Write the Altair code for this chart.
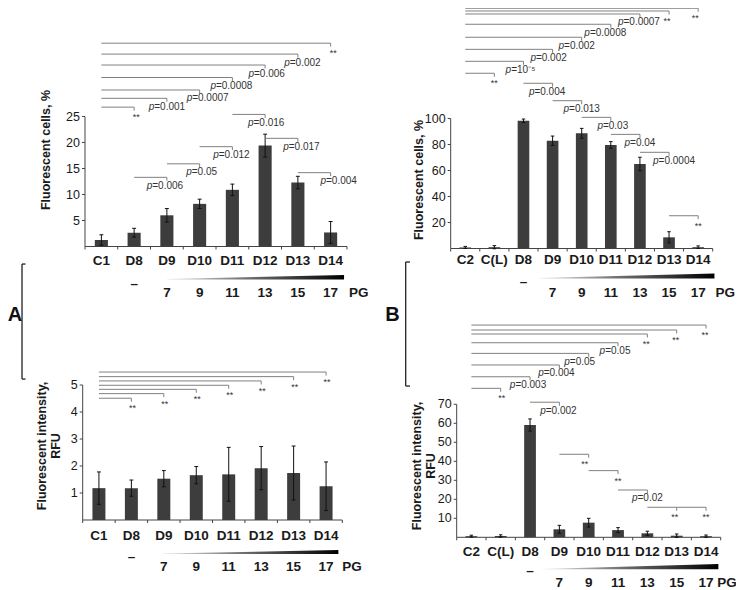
import altair as alt
import pandas as pd

# ---------------- data ----------------
cats_A = ["C1", "D8", "D9", "D10", "D11", "D12", "D13", "D14"]
cells_A = [1.25, 2.65, 6.0, 8.2, 10.9, 19.4, 12.3, 2.7]
cells_A_err = [1.0, 0.85, 1.3, 0.9, 1.1, 2.2, 1.2, 2.1]
rfu_A = [1.18, 1.18, 1.53, 1.66, 1.69, 1.92, 1.74, 1.25]
rfu_A_err = [0.6, 0.3, 0.3, 0.32, 1.0, 0.8, 1.0, 0.9]

cats_B = ["C2", "C(L)", "D8", "D9", "D10", "D11", "D12", "D13", "D14"]
cells_B = [0.8, 1.0, 98.3, 82.9, 88.6, 79.6, 65.0, 8.6, 1.0]
cells_B_err = [0.8, 1.2, 1.3, 3.6, 3.8, 2.6, 5.2, 4.3, 1.0]
rfu_B = [0.6, 0.7, 59.1, 4.2, 7.7, 3.8, 2.1, 0.85, 0.6]
rfu_B_err = [0.5, 0.6, 3.2, 2.1, 2.3, 1.3, 1.1, 0.9, 0.6]

ticks_cells_A = [5, 10, 15, 20, 25]
ticks_rfu_A = [1, 2, 3, 4, 5]
ticks_cells_B = [20, 40, 60, 80, 100]
ticks_rfu_B = [10, 20, 30, 40, 50, 60, 70]

title_cells = ["Fluorescent cells, %"]
title_rfu = ["Fluorescent intensity,", "RFU"]

pg_cats = ["D9", "D10", "D11", "D12", "D13", "D14"]
pg_values = ["7", "9", "11", "13", "15", "17"]
no_pg_cat = "D8"

# significance brackets: from, to, height (axis units), label
sig_cells_A_from = ["C1"] * 7 + ["D8", "D9", "D10", "D11", "D12", "D13"]
sig_cells_A_to = ["D8", "D9", "D10", "D11", "D12", "D13", "D14",
                  "D9", "D10", "D11", "D12", "D13", "D14"]
sig_cells_A_lvl = [26.8, 28.5, 30.1, 32.5, 34.9, 37.0, 39.1,
                   13.3, 15.9, 19.2, 25.4, 20.8, 14.2]
sig_cells_A_lab = ["**", "p=0.001", "p=0.0007", "p=0.0008", "p=0.006", "p=0.002", "**",
                   "p=0.006", "p=0.05", "p=0.012", "p=0.016", "p=0.017", "p=0.004"]

sig_rfu_A_from = ["C1"] * 7
sig_rfu_A_to = ["D8", "D9", "D10", "D11", "D12", "D13", "D14"]
sig_rfu_A_lvl = [4.51, 4.68, 4.84, 4.99, 5.15, 5.31, 5.48]
sig_rfu_A_lab = ["**"] * 7

sig_cells_B_from = ["C2"] * 8 + ["D8", "D9", "D10", "D11", "D12", "D13"]
sig_cells_B_to = ["C(L)", "D8", "D9", "D10", "D11", "D12", "D13", "D14",
                  "D9", "D10", "D11", "D12", "D13", "D14"]
sig_cells_B_lvl = [134.8, 144.0, 153.2, 162.5, 172.5, 180.4, 182.7, 184.8,
                   127.1, 113.7, 100.9, 87.8, 74.0, 25.2]
sig_cells_B_lab = ["**", "p=10⁻⁵", "p=0.002", "p=0.002", "p=0.0008", "p=0.0007", "**", "**",
                   "p=0.004", "p=0.013", "p=0.03", "p=0.04", "p=0.0004", "**"]

sig_rfu_B_from = ["C2"] * 8 + ["D8", "D9", "D10", "D11", "D12", "D13"]
sig_rfu_B_to = ["C(L)", "D8", "D9", "D10", "D11", "D12", "D13", "D14",
                "D9", "D10", "D11", "D12", "D13", "D14"]
sig_rfu_B_lvl = [78.4, 84.5, 90.7, 96.8, 102.4, 107.0, 109.1, 111.7,
                 71.1, 43.7, 35.1, 24.9, 15.8, 15.8]
sig_rfu_B_lab = ["**", "p=0.003", "p=0.004", "p=0.05", "p=0.05", "**", "**", "**",
                 "p=0.002", "**", "**", "p=0.02", "**", "**"]

# ---------------- layout / style ----------------
W, H = 728, 582
FONT = "Liberation Sans"
BAR = "#3d3d3d"
LINE = "#808080"
INK = "#1a1a1a"
PTXT = "#333333"
AX = "#444444"
TICK_PX = 3.5

# horizontal label nudges (px) for the bracket labels, same order as the brackets
shift_cells_A = [2, 0, 8, -1, 1.5, 4.5, 2.5, -2, 2, -1, 1, 3.5, 8]
shift_rfu_A = [1] * 7
shift_cells_B = [0, -3, -4, -5, -5.5, -1, -2, -3, -5.5, 0, 2, 0, 5, 0]
shift_rfu_B = [1, -2, -3, -9, -3, -1, -1, -1, -1, -4, 0, 0, -2, 0]

GRAD = alt.LinearGradient(
    gradient="linear",
    stops=[alt.GradientStop(color="#e8e8e8", offset=0),
           alt.GradientStop(color="#707070", offset=0.45),
           alt.GradientStop(color="#000000", offset=1)],
    x1=0, x2=1, y1=0, y2=0)

cfg_TL = dict(x0=77, x1=339, y0=238.5, ppu=5.2, ymax=25,
              title_x=-39, title_y=142,
              cat_dy=14.5, dash_dy=37, num_dy=46.5, pg_dx=28, wedge=(2.5, 7.91, 33, 4.5))
cfg_BL = dict(x0=74.7, x1=334.3, y0=512, ppu=27, ymax=5,
              title_x=-41, title_y=438,
              cat_dy=15.5, dash_dy=37, num_dy=46.7, pg_dx=26, wedge=(2.45, 7.88, 34, 4))
cfg_TR = dict(x0=442.7, x1=704.7, y0=240.5, ppu=1.3, ymax=100,
              title_x=-31.7, title_y=172,
              cat_dy=11.5, dash_dy=33, num_dy=44, pg_dx=27, wedge=(3.01, 9.06, 30, 5))
cfg_BR = dict(x0=448.7, x1=712.7, y0=529.3, ppu=1.9, ymax=70,
              title_x=-39.5, title_y=458,
              cat_dy=14.5, dash_dy=34, num_dy=45.4, pg_dx=21, wedge=(2.9, 8.92, 32, 5.3))

deco_A = dict(letter="A", lx=-1.87, tx=-1.763, ytop=9.48, ybot=5.22, txt_x=-2.09, txt_y=7.59)
deco_B = dict(letter="B", lx=-1.739, tx=-1.592, ytop=144.9, ybot=79.6, txt_x=-2.19, txt_y=117)

CW = {".": 2.78, "=": 5.84, "p": 5.56, "⁻": 3.6, "⁵": 3.6}


def twidth(s, size=10):
    return sum(CW.get(ch, 5.56) for ch in s) * size / 10


def make_panel(cats, vals, errs, ticks, title, s_from, s_to, s_lvl, s_lab, s_shift, c,
               deco=None):
    n = len(cats)
    ppx = (c["x1"] - c["x0"]) / n
    ppu = c["ppu"]
    xs = alt.Scale(domain=[0, n], range=[c["x0"], c["x1"]], nice=False, zero=False)
    ys = alt.Scale(domain=[0, c["ymax"]],
                   range=[c["y0"], c["y0"] - c["ymax"] * ppu], nice=False, zero=False)

    def X(f):
        return alt.X(f, type="quantitative", scale=xs, axis=None)

    def Y(f):
        return alt.Y(f, type="quantitative", scale=ys, axis=None)

    layers = []

    # ---- axes drawn through the panel scales ----
    ax = pd.DataFrame({"x0": [0.0, 0.0], "x1": [float(n), 0.0],
                       "y0": [0.0, 0.0], "y1": [0.0, float(c["ymax"])]})
    layers.append(alt.Chart(ax).mark_rule(color=AX, strokeWidth=1).encode(
        x=X("x0"), x2="x1:Q", y=Y("y0"), y2="y1:Q"))
    xt = pd.DataFrame({"x": [float(i) for i in range(n + 1)]})
    xt["y0"] = 0.0
    xt["y1"] = -3.0 / ppu
    layers.append(alt.Chart(xt).mark_rule(color=AX, strokeWidth=1).encode(
        x=X("x"), y=Y("y0"), y2="y1:Q"))
    yt = pd.DataFrame({"v": ticks})
    yt["lab"] = [str(t) for t in ticks]
    yt["x0"] = 0.0
    yt["x1"] = -3.0 / ppx
    layers.append(alt.Chart(yt).mark_rule(color=AX, strokeWidth=1).encode(
        x=X("x0"), x2="x1:Q", y=Y("v")))
    layers.append(alt.Chart(yt).mark_text(
        font=FONT, fontSize=12.5, color=INK, align="right", baseline="middle", dx=-5).encode(
        x=X("x0"), y=Y("v"), text="lab:N"))
    ttl = pd.DataFrame({"x": [c["title_x"] / ppx], "y": [(c["y0"] - c["title_y"]) / ppu]})
    layers.append(alt.Chart(ttl).mark_text(
        text=title if len(title) > 1 else title[0], font=FONT, fontSize=12.5,
        fontWeight="bold", color=INK, angle=270, align="center", baseline="middle",
        lineHeight=14).encode(x=X("x"), y=Y("y")))

    # ---- bars + error bars ----
    pos = pd.Series(range(n), dtype=float)
    bars = pd.DataFrame({"cat": cats, "v": vals, "e": errs})
    bars["xl"] = pos + 0.3
    bars["xr"] = pos + 0.7
    bars["xc"] = pos + 0.5
    bars["cl"] = pos + 0.44
    bars["cr"] = pos + 0.56
    bars["lo"] = bars.v - bars.e
    bars["hi"] = bars.v + bars.e
    bars["zero"] = 0.0

    layers.append(alt.Chart(bars).mark_bar(color=BAR).encode(
        x=X("xl"), x2="xr:Q", y=Y("v"), y2="zero:Q"))
    layers.append(alt.Chart(bars).mark_rule(color="#111111", strokeWidth=1).encode(
        x=X("xc"), y=Y("lo"), y2="hi:Q"))
    layers.append(alt.Chart(bars).mark_rule(color="#111111", strokeWidth=1).encode(
        x=X("cl"), x2="cr:Q", y=Y("hi")))
    layers.append(alt.Chart(bars).mark_rule(color="#111111", strokeWidth=1).encode(
        x=X("cl"), x2="cr:Q", y=Y("lo")))

    # ---- significance brackets ----
    br = pd.DataFrame({"a": s_from, "b": s_to, "lvl": s_lvl, "lab": s_lab, "sh": s_shift})
    br["xa"] = [cats.index(k) + 0.5 for k in br.a]
    br["xb"] = [cats.index(k) + 0.5 for k in br.b]
    br["lt"] = br.lvl - TICK_PX / ppu
    br["isp"] = br.lab.str.startswith("p=")
    br["rest"] = [s[1:] if s.startswith("p=") else s for s in br.lab]
    split = []
    for s, sh in zip(br.lab, br.sh):
        if s.startswith("p="):
            split.append(sh - twidth(s) / 2 + twidth("p"))
        else:
            split.append(sh)
    br["xs"] = br.xb + pd.Series(split) / ppx

    layers.append(alt.Chart(br).mark_rule(color=LINE, strokeWidth=1).encode(
        x=X("xa"), x2="xb:Q", y=Y("lvl")))
    layers.append(alt.Chart(br).mark_rule(color=LINE, strokeWidth=1).encode(
        x=X("xb"), y=Y("lvl"), y2="lt:Q"))
    pl = br[br.isp]
    if len(pl):
        layers.append(alt.Chart(pl).mark_text(
            text="p", font=FONT, fontSize=10, fontStyle="italic", color=PTXT,
            align="right", baseline="middle", dy=8.5).encode(x=X("xs"), y=Y("lvl")))
        layers.append(alt.Chart(pl).mark_text(
            font=FONT, fontSize=10, color=PTXT, align="left", baseline="middle",
            dy=8.5).encode(x=X("xs"), y=Y("lvl"), text="rest:N"))
    sl = br[~br.isp]
    if len(sl):
        layers.append(alt.Chart(sl).mark_text(
            font=FONT, fontSize=9, color=PTXT, align="center", baseline="middle",
            dy=10).encode(x=X("xs"), y=Y("lvl"), text="lab:N"))

    # ---- category labels, PG legend ----
    layers.append(alt.Chart(bars).mark_text(
        font=FONT, fontSize=13.5, fontWeight="bold", color=INK,
        baseline="middle", dy=c["cat_dy"]).encode(x=X("xc"), y=Y("zero"), text="cat:N"))
    dash = pd.DataFrame({"xc": [cats.index(no_pg_cat) + 0.5], "zero": [0.0]})
    layers.append(alt.Chart(dash).mark_text(
        text="–", font=FONT, fontSize=13.5, fontWeight="bold", color=INK,
        baseline="middle", dy=c["dash_dy"]).encode(x=X("xc"), y=Y("zero")))
    pg = pd.DataFrame({"lab": pg_values})
    pg["xc"] = [cats.index(k) + 0.5 for k in pg_cats]
    pg["zero"] = 0.0
    layers.append(alt.Chart(pg).mark_text(
        font=FONT, fontSize=13.5, fontWeight="bold", color=INK,
        baseline="middle", dy=c["num_dy"]).encode(x=X("xc"), y=Y("zero"), text="lab:N"))
    pgl = pd.DataFrame({"xc": [cats.index(pg_cats[-1]) + 0.5], "zero": [0.0]})
    layers.append(alt.Chart(pgl).mark_text(
        text="PG", font=FONT, fontSize=13.5, fontWeight="bold", color=INK,
        baseline="middle", dx=c["pg_dx"], dy=c["num_dy"]).encode(x=X("xc"), y=Y("zero")))
    ws, we, wb, wh = c["wedge"]
    wdf = pd.DataFrame({"wx": [ws, we],
                        "top": [-(wb - 0.4) / ppu, -(wb - wh) / ppu],
                        "bot": [-wb / ppu, -wb / ppu]})
    layers.append(alt.Chart(wdf).mark_area(fill=GRAD).encode(
        x=X("wx"), y=Y("top"), y2="bot:Q"))

    if deco is not None:
        d = deco
        vdf = pd.DataFrame({"lx": [d["lx"]], "tx": [d["tx"]], "yt": [d["ytop"]],
                            "yb": [d["ybot"]], "txx": [d["txt_x"]], "txy": [d["txt_y"]],
                            "letter": [d["letter"]]})
        layers.append(alt.Chart(vdf).mark_rule(color="#222222", strokeWidth=1.3).encode(
            x=X("lx"), y=Y("yt"), y2="yb:Q"))
        layers.append(alt.Chart(vdf).mark_rule(color="#222222", strokeWidth=1.3).encode(
            x=X("lx"), x2="tx:Q", y=Y("yt")))
        layers.append(alt.Chart(vdf).mark_rule(color="#222222", strokeWidth=1.3).encode(
            x=X("lx"), x2="tx:Q", y=Y("yb")))
        layers.append(alt.Chart(vdf).mark_text(
            font=FONT, fontSize=20, fontWeight="bold", color="#111111",
            align="center", baseline="middle").encode(
            x=X("txx"), y=Y("txy"), text="letter:N"))

    return alt.layer(*layers)


pTL = make_panel(cats_A, cells_A, cells_A_err, ticks_cells_A, title_cells,
                 sig_cells_A_from, sig_cells_A_to, sig_cells_A_lvl, sig_cells_A_lab,
                 shift_cells_A, cfg_TL)
pBL = make_panel(cats_A, rfu_A, rfu_A_err, ticks_rfu_A, title_rfu,
                 sig_rfu_A_from, sig_rfu_A_to, sig_rfu_A_lvl, sig_rfu_A_lab,
                 shift_rfu_A, cfg_BL, deco_A)
pTR = make_panel(cats_B, cells_B, cells_B_err, ticks_cells_B, title_cells,
                 sig_cells_B_from, sig_cells_B_to, sig_cells_B_lvl, sig_cells_B_lab,
                 shift_cells_B, cfg_TR)
pBR = make_panel(cats_B, rfu_B, rfu_B_err, ticks_rfu_B, title_rfu,
                 sig_rfu_B_from, sig_rfu_B_to, sig_rfu_B_lvl, sig_rfu_B_lab,
                 shift_rfu_B, cfg_BR, deco_B)

chart = alt.layer(pTL, pBL, pTR, pBR).resolve_scale(
    x="independent", y="independent"
).properties(
    width=W, height=H, padding=0, autosize=alt.AutoSizeParams(type="none")
).configure_view(
    strokeWidth=0
)

chart.save("out.html", embed_options={"renderer": "svg", "actions": False})
